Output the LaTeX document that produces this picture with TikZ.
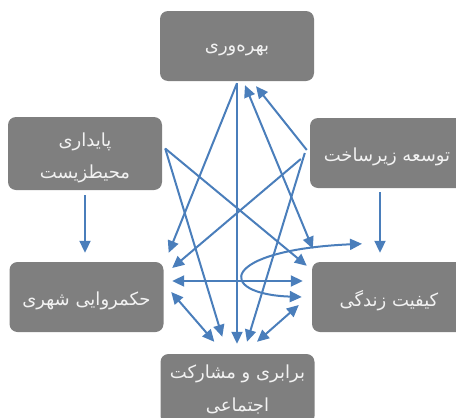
\documentclass[tikz,border=0pt]{standalone}
\usepackage{fontspec}
\newfontfamily\fa[Script=Arabic]{DejaVu Sans}
\TeXXeTstate=1
\usetikzlibrary{arrows.meta,calc}
\definecolor{boxgray}{RGB}{127,127,127}
\definecolor{arrowblue}{RGB}{74,126,187}
\definecolor{txtc}{RGB}{242,242,242}
\newcommand{\faline}[1]{\raisebox{-4pt}[\height][\depth]{\beginR #1\endR}}
\begin{document}
\begin{tikzpicture}[x=1pt,y=-1pt,
  box/.style={fill=boxgray, rounded corners=8pt, minimum width=154pt, minimum height=70pt,
    text=txtc, font=\fa\fontsize{18}{32}\selectfont, align=center, inner sep=0pt},
  con/.style={draw=arrowblue, line width=2pt, -{Triangle[length=12pt,width=11pt]}},
  dcon/.style={draw=arrowblue, line width=2pt, {Triangle[length=12pt,width=11pt]}-{Triangle[length=12pt,width=11pt]}}]
\useasboundingbox (0,0) rectangle (456,418);
\clip (0,0) rectangle (456,418);
\node[box] (B) at (237,46) {\faline{بهره‌وری}};
\node[box,minimum height=73pt] (P) at (85,153.5) {\faline{پایداری}\\\faline{محیطزیست}};
\node[box] (T) at (387,153) {\faline{توسعه زیرساخت}};
\node[box] (H) at (86.5,297) {\faline{حکمروایی شهری}};
\node[box] (K) at (389,297) {\faline{کیفیت زندگی}};
\node[box] (E) at (237.5,389) {\beginR برابری و مشارکت\endR\\[1pt]\beginR اجتماعی\endR};
% connectors
\draw[con] ($(P.south)+(0,5)$) -- ($(H.north)+(-1.5,-9)$);
\draw[con] ($(T.south)+(-7,4)$) -- ($(K.north)+(-9,-9)$);
\draw[con] ($(B.south)+(0,2)$) -- ($(E.north)+(-0.5,-10)$);
\draw[con] ($(B.south)+(0,2)$) -- ($(H.north east)+(5,-9)$);
\draw[con] ($(P.east)+(3,-5)$) -- ($(E.north west)+(62,-17)$);
\draw[con] ($(P.east)+(3,-5)$) -- ($(K.north west)+(-5,4)$);
\draw[con] ($(T.west)+(-3,-3)$) -- ($(B.south)+(19,5)$);
\draw[dcon] ($(B.south)+(8,4)$) -- ($(K.north west)+(1,-13)$);
\draw[con] ($(T.west)+(-5,0)$) -- ($(E.north)+(9.5,-12)$);
\draw[con] ($(T.west)+(-9,6)$) -- ($(H.east)+(8.5,-29)$);
\draw[dcon] ($(H.east)+(8.5,-16)$) -- ($(K.west)+(-9,-16)$);
\draw[dcon] ($(H.east)+(7.5,-5)$) -- ($(E.north west)+(54,-12)$);
\draw[dcon] ($(E.north)+(19.5,-12)$) -- ($(K.west)+(-13,8)$);
\draw[dcon] ($(K.west)+(-10,0)$) .. controls ($(K.west)+(-97,-3)$) and ($(K.west)+(-92,-47)$) .. ($(K.north)+(-27,-18)$);
\end{tikzpicture}
\end{document}
